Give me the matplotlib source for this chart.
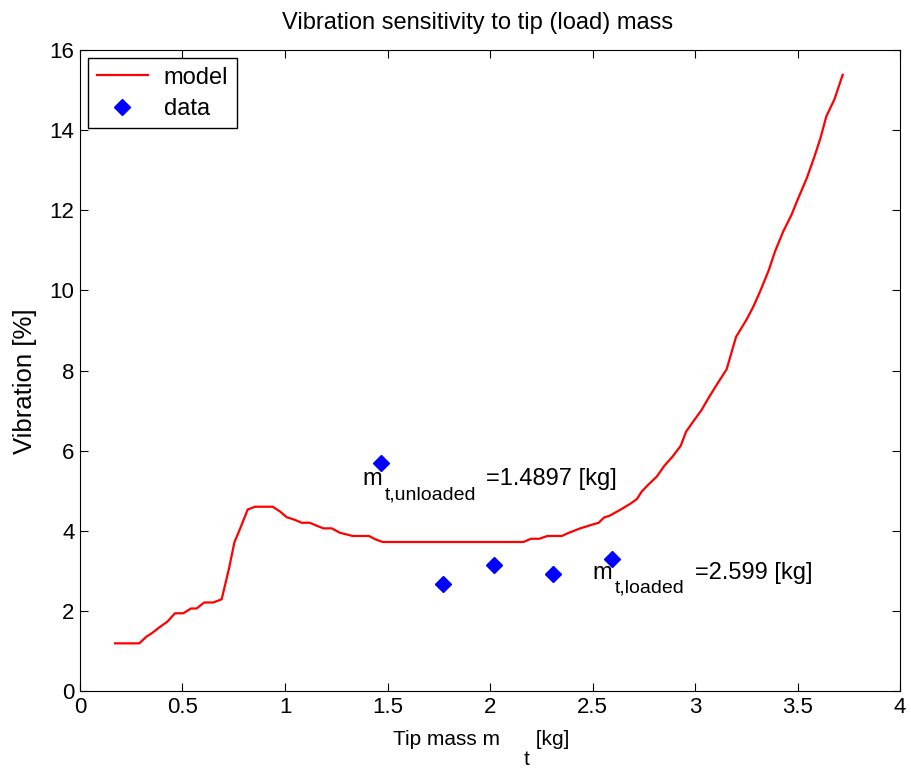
import numpy as np
import matplotlib
matplotlib.use('Agg')
import matplotlib.pyplot as plt
from matplotlib.transforms import offset_copy

plt.rcParams['font.family'] = ['Liberation Sans', 'DejaVu Sans']

# model curve
mass = [0.171, 0.289, 0.325, 0.35, 0.39, 0.426, 0.463, 0.504, 0.541, 0.569,
        0.606, 0.65, 0.691, 0.727, 0.753, 0.78, 0.818, 0.854, 0.94, 0.976,
        1.008, 1.049, 1.081, 1.12, 1.187, 1.228, 1.268, 1.33, 1.41, 1.439,
        1.476, 1.8, 2.163, 2.2, 2.24, 2.28, 2.35, 2.38, 2.44, 2.49,
        2.53, 2.556, 2.585, 2.634, 2.683, 2.716, 2.74, 2.77, 2.813, 2.85,
        2.89, 2.93, 2.956, 2.99, 3.03, 3.07, 3.11, 3.154, 3.2, 3.25,
        3.284, 3.317, 3.36, 3.39, 3.43, 3.47, 3.5, 3.545, 3.585, 3.614,
        3.64, 3.68, 3.72]
vib = [1.19, 1.19, 1.36, 1.44, 1.6, 1.73, 1.94, 1.94, 2.06, 2.06,
       2.21, 2.21, 2.29, 3.06, 3.71, 4.04, 4.53, 4.6, 4.6, 4.48,
       4.34, 4.27, 4.2, 4.2, 4.06, 4.06, 3.95, 3.87, 3.87, 3.79,
       3.72, 3.72, 3.72, 3.8, 3.8, 3.87, 3.87, 3.94, 4.06, 4.14,
       4.2, 4.33, 4.38, 4.52, 4.67, 4.79, 4.98, 5.14, 5.35, 5.62,
       5.85, 6.12, 6.47, 6.72, 7.0, 7.35, 7.68, 8.03, 8.84, 9.26,
       9.59, 9.97, 10.51, 10.97, 11.47, 11.88, 12.26, 12.8, 13.38, 13.84,
       14.34, 14.77, 15.38]

# measured data
data_mass = [1.47, 1.77, 2.02, 2.305, 2.595]
data_vib = [5.68, 2.67, 3.15, 2.93, 3.3]

fig = plt.figure(figsize=(9.11, 7.69), dpi=100)
ax = fig.add_axes([0.0878, 0.1014, 0.9002, 0.8336])
rend = fig.canvas.get_renderer()


def sub_text(x, y, main, sub, rest, trans, size=17, subsize=14, drop=14,
             gap1=3, gap2=10, target=ax):
    # matlab style "m_{sub} rest", built from pieces (offsets in pixels)
    t1 = target.text(x, y, main, fontsize=size, va='baseline', transform=trans)
    w1 = t1.get_window_extent(rend).width
    t2 = target.text(x, y, sub, fontsize=subsize, va='baseline',
                     transform=offset_copy(trans, fig, x=w1 + gap1, y=-drop, units='dots'))
    w2 = t2.get_window_extent(rend).width
    target.text(x, y, rest, fontsize=size, va='baseline',
                transform=offset_copy(trans, fig, x=w1 + gap1 + w2 + gap2, y=0, units='dots'))


ax.plot(mass, vib, color='red', lw=1.6, label='model')
ax.plot(data_mass, data_vib, 'D', color='blue', ms=8.5, label='data')

sub_text(1.376, 5.14, 'm', 't,unloaded', '=1.4897 [kg]', ax.transData)
sub_text(2.498, 2.80, 'm', 't,loaded', '=2.599 [kg]', ax.transData)

ax.set_xlim(0, 4)
ax.set_ylim(0, 16)
ax.set_xticks(np.arange(0, 4.01, 0.5))
ax.set_xticklabels(['0', '0.5', '1', '1.5', '2', '2.5', '3', '3.5', '4'])
ax.set_yticks(np.arange(0, 17, 2))
ax.tick_params(direction='in', top=True, right=True, labelsize=16, length=6, pad=4)

ax.set_title('Vibration sensitivity to tip (load) mass', fontsize=17, pad=15)
ax.title.set_x(0.485)
ax.set_ylabel('Vibration [%]', fontsize=18.5)
ax.yaxis.set_label_coords(-0.053, 0.484)

# x label with subscript
sub_text(393 / 911, 24 / 769, 'Tip mass m', 't', ' [kg]', fig.transFigure,
         size=15, subsize=15, drop=20, gap1=24, gap2=0, target=fig)

leg = ax.legend(loc='upper left', fontsize=17, fancybox=False, framealpha=1,
                edgecolor='black', handlelength=2.2, handletextpad=0.65,
                labelspacing=0.4, borderpad=0.35, borderaxespad=0.35)
leg.get_frame().set_linewidth(1.0)

fig.savefig('out.png', dpi=100)
